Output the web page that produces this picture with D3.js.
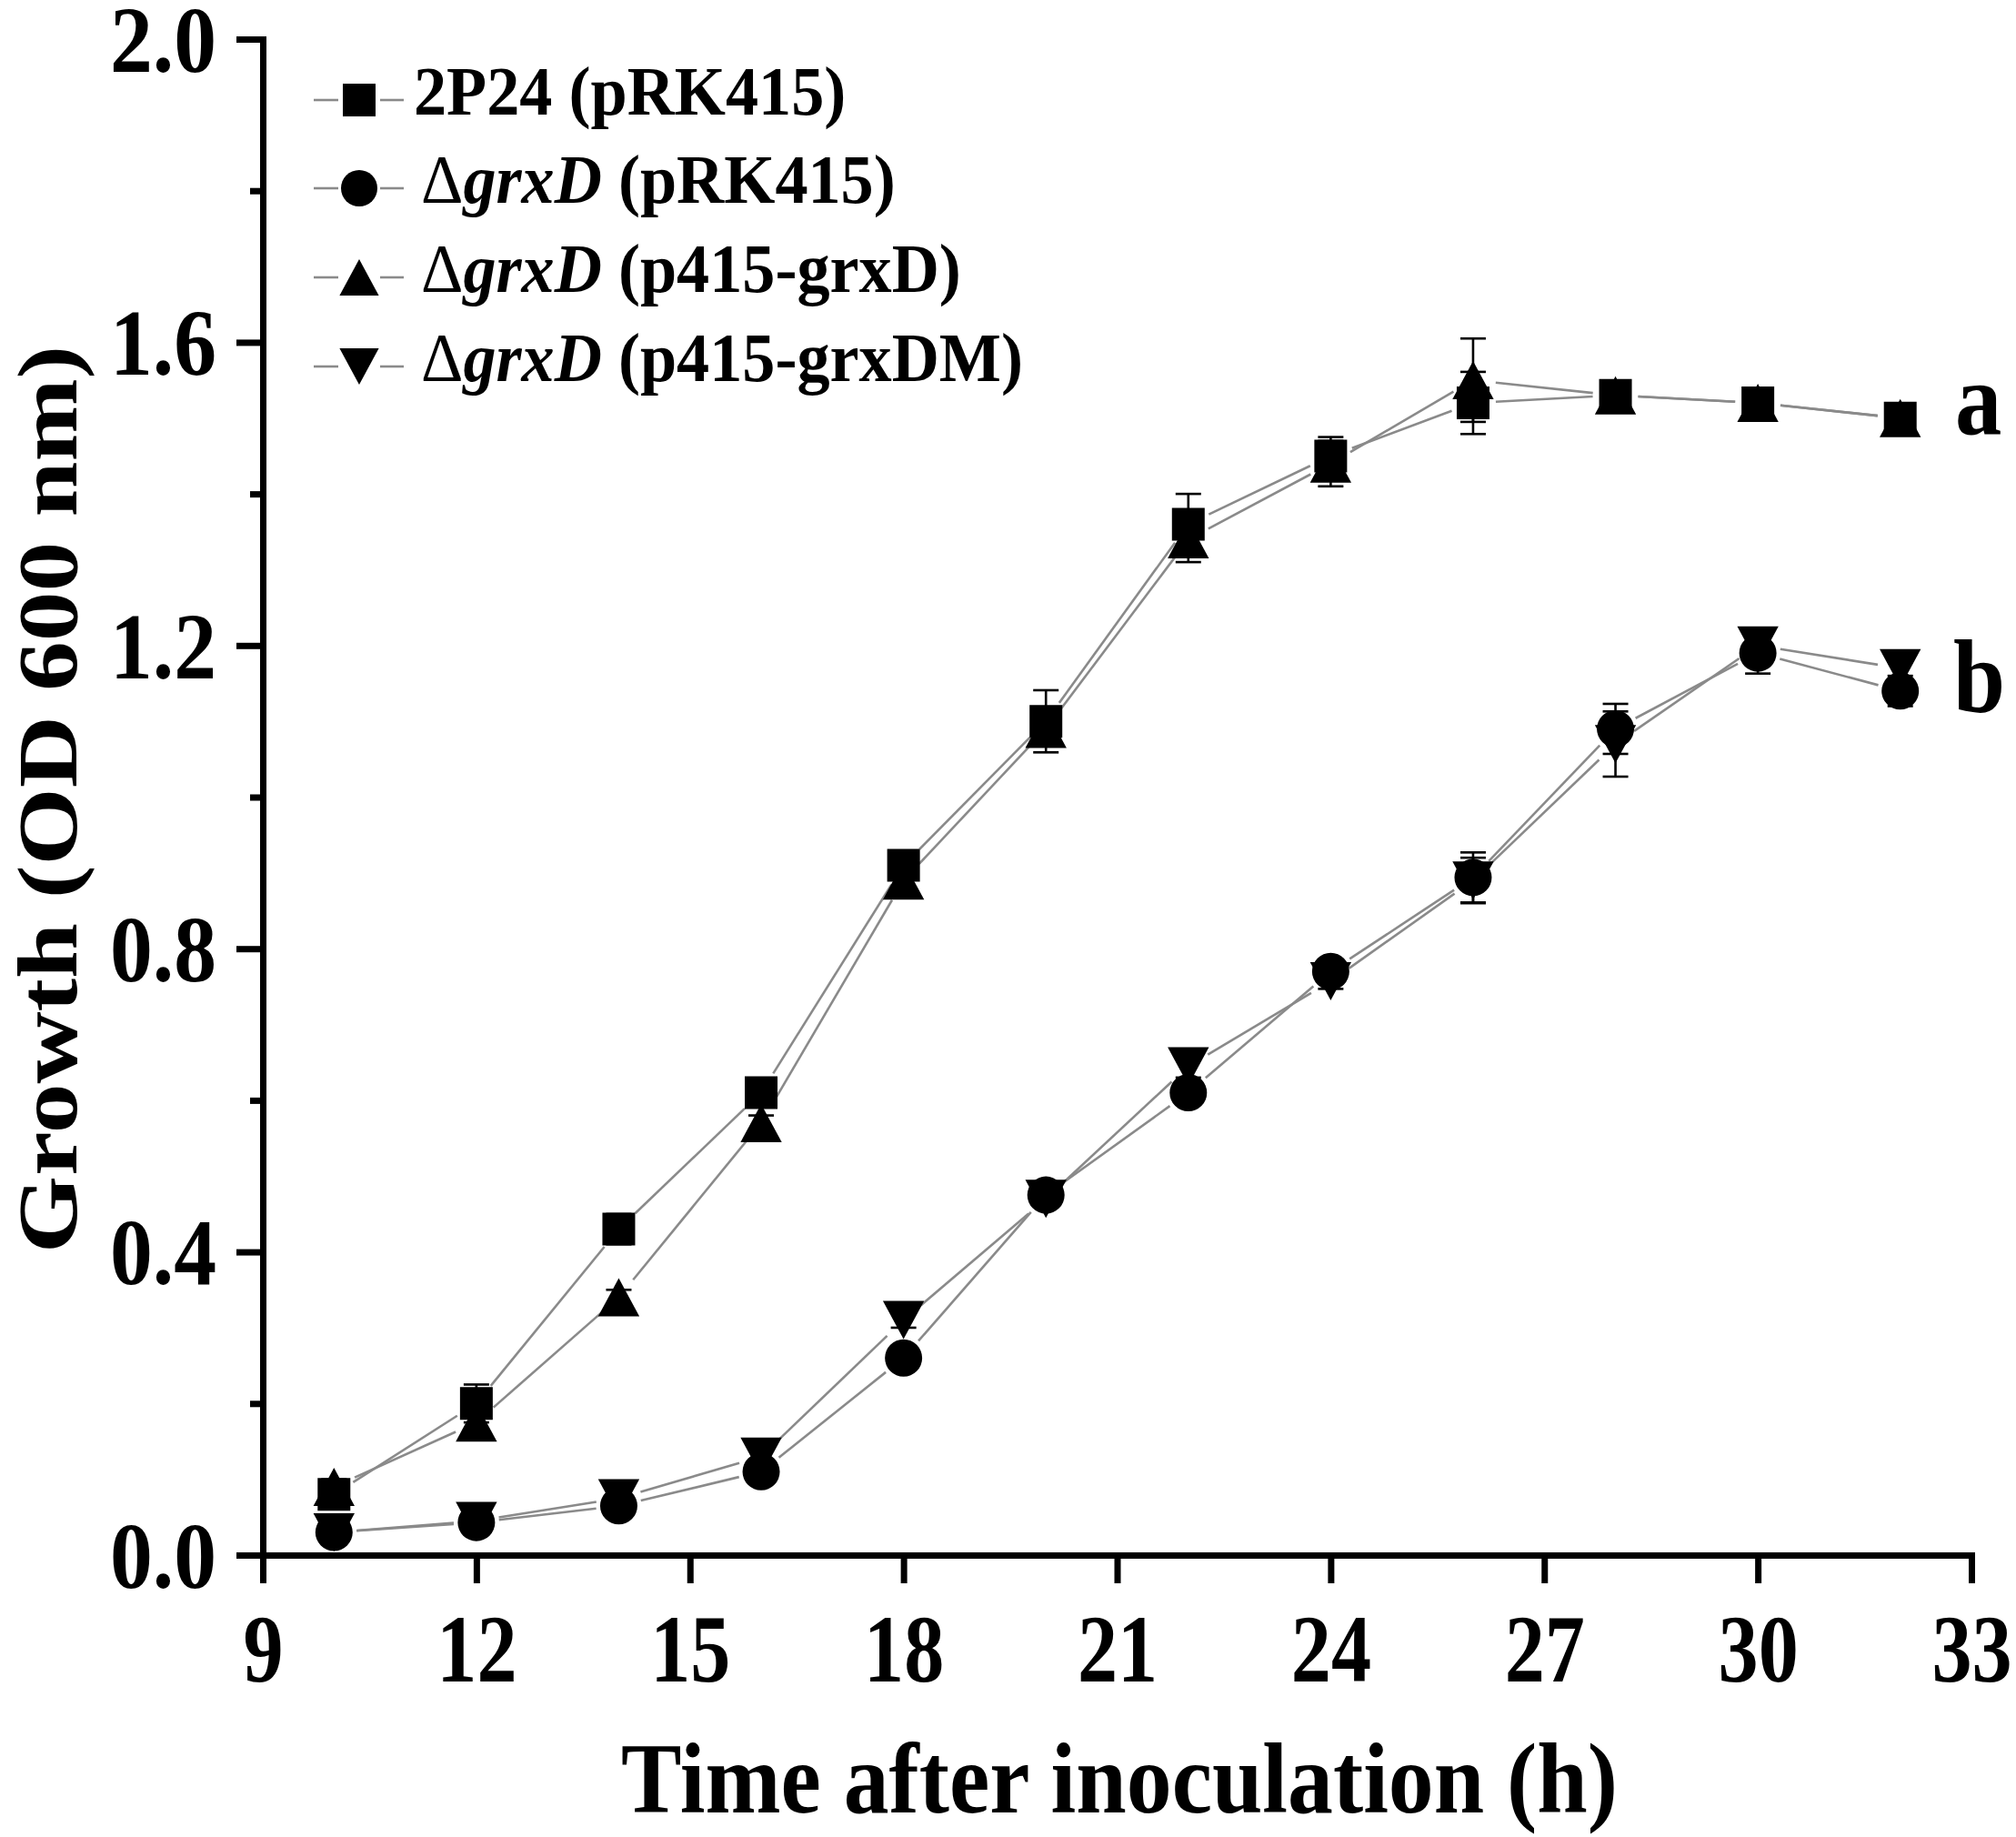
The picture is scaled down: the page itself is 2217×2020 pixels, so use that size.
<!DOCTYPE html>
<html>
<head>
<meta charset="utf-8">
<script src="https://cdn.jsdelivr.net/npm/d3@7"></script>
<style>
  html, body { margin: 0; padding: 0; background: #fff; }
  svg text { font-family: "Liberation Serif", "Times New Roman", serif; font-weight: bold; fill: #000; }
</style>
</head>
<body>
<svg id="chart" width="2217" height="2020"></svg>
<script>
// sampling times (h)
var hours = [10, 12, 14, 16, 18, 20, 22, 24, 26, 28, 30, 32];

// OD600 means and SD
var wtMean   = [0.08, 0.20, 0.43, 0.61, 0.91, 1.10, 1.36, 1.45, 1.52, 1.53, 1.52, 1.50];
var wtErr    = [0.01, 0.025, 0.02, 0.015, 0.015, 0.041, 0.04, 0.025, 0.041, 0.01, 0.01, 0.01];
var mutMean  = [0.03, 0.043, 0.065, 0.11, 0.26, 0.475, 0.61, 0.77, 0.894, 1.09, 1.19, 1.14];
var mutErr   = [0.01, 0.01, 0.01, 0.01, 0.01, 0.01, 0.01, 0.01, 0.033, 0.033, 0.027, 0.02];
var compMean = [0.09, 0.175, 0.34, 0.57, 0.89, 1.09, 1.34, 1.44, 1.55, 1.53, 1.52, 1.50];
var compErr  = [0.01, 0.01, 0.01, 0.01, 0.02, 0.01, 0.03, 0.03, 0.055, 0.01, 0.01, 0.01];
var dmMean   = [0.03, 0.045, 0.075, 0.13, 0.31, 0.47, 0.645, 0.757, 0.89, 1.07, 1.20, 1.17];
var dmErr    = [0.01, 0.01, 0.01, 0.01, 0.01, 0.01, 0.015, 0.01, 0.03, 0.043, 0.02, 0.015];

var seriesNames = ['2P24 (pRK415)', '\u0394grxD (pRK415)', '\u0394grxD (p415-grxD)', '\u0394grxD (p415-grxDM)'];
var seriesShapes = ['square', 'circle', 'triangle', 'down'];

var xTicks = [9, 12, 15, 18, 21, 24, 27, 30, 33];
var yTicks = [0.0, 0.4, 0.8, 1.2, 1.6, 2.0];
var yMinor = [0.2, 0.6, 1.0, 1.4, 1.8];

var groupLabels = ['a', 'b'];

(function() {
  var series = [
    { name: seriesNames[0], shape: seriesShapes[0], mean: wtMean,   err: wtErr },
    { name: seriesNames[1], shape: seriesShapes[1], mean: mutMean,  err: mutErr },
    { name: seriesNames[2], shape: seriesShapes[2], mean: compMean, err: compErr },
    { name: seriesNames[3], shape: seriesShapes[3], mean: dmMean,   err: dmErr }
  ];

  var svg = d3.select('#chart');
  svg.append('rect').attr('width', 2217).attr('height', 2020).attr('fill', '#fff');

  var x = d3.scaleLinear().domain([9, 33]).range([289, 2168]);
  var y = d3.scaleLinear().domain([0, 2]).range([1710, 43]);

  var LINE = '#8a8a8a';

  // marker outlines around (0,0)
  function markerPath(shape, s) {
    var h;
    if (shape === 'square') {
      h = s / 2;
      return 'M' + (-h) + ',' + (-h) + 'H' + h + 'V' + h + 'H' + (-h) + 'Z';
    }
    if (shape === 'circle') {
      h = s / 2;
      return 'M' + (-h) + ',0A' + h + ',' + h + ' 0 1,0 ' + h + ',0A' + h + ',' + h + ' 0 1,0 ' + (-h) + ',0Z';
    }
    var w = s * 1.08 / 2, t = s / 2;
    if (shape === 'triangle') return 'M0,' + (-t) + 'L' + w + ',' + t + 'L' + (-w) + ',' + t + 'Z';
    return 'M0,' + t + 'L' + w + ',' + (-t) + 'L' + (-w) + ',' + (-t) + 'Z';
  }
  var markerSize = { square: 36, circle: 41, triangle: 42, down: 42 };

  // squeeze text horizontally (the figure's lettering is narrow)
  function squeeze(sel, k) {
    sel.each(function() {
      var w = this.getComputedTextLength();
      d3.select(this).attr('textLength', w * k).attr('lengthAdjust', 'spacingAndGlyphs');
    });
  }

  // connecting lines, trimmed short of the markers
  var lines = svg.append('g').attr('stroke', LINE).attr('stroke-width', 2.6).attr('fill', 'none');
  series.forEach(function(s) {
    var pts = hours.map(function(h, i) { return [x(h), y(s.mean[i])]; });
    d3.pairs(pts).forEach(function(p) {
      var dx = p[1][0] - p[0][0], dy = p[1][1] - p[0][1];
      var len = Math.sqrt(dx * dx + dy * dy), g = 25;
      if (len <= 2 * g) return;
      var ux = dx / len, uy = dy / len;
      lines.append('line')
        .attr('x1', p[0][0] + ux * g).attr('y1', p[0][1] + uy * g)
        .attr('x2', p[1][0] - ux * g).attr('y2', p[1][1] - uy * g);
    });
  });

  // error bars
  var errs = svg.append('g').attr('stroke', '#000').attr('stroke-width', 2.6);
  series.forEach(function(s) {
    hours.forEach(function(h, i) {
      var cx = x(h), top = y(s.mean[i] + s.err[i]), bot = y(s.mean[i] - s.err[i]);
      errs.append('line').attr('x1', cx).attr('x2', cx).attr('y1', top).attr('y2', bot);
      errs.append('line').attr('x1', cx - 14).attr('x2', cx + 14).attr('y1', top).attr('y2', top);
      errs.append('line').attr('x1', cx - 14).attr('x2', cx + 14).attr('y1', bot).attr('y2', bot);
    });
  });

  // markers
  series.forEach(function(s) {
    svg.append('g').selectAll('path')
      .data(hours.map(function(h, i) { return [h, s.mean[i]]; }))
      .join('path')
      .attr('d', markerPath(s.shape, markerSize[s.shape]))
      .attr('transform', function(d) { return 'translate(' + x(d[0]) + ',' + y(d[1]) + ')'; })
      .attr('fill', '#000');
  });

  // axes
  var xAxis = svg.append('g')
    .attr('transform', 'translate(0,1710)')
    .call(d3.axisBottom(x).tickValues(xTicks).tickSize(31).tickSizeOuter(0).tickPadding(33));
  var yAxis = svg.append('g')
    .attr('transform', 'translate(289,0)')
    .call(d3.axisLeft(y).tickValues(yTicks).tickFormat(d3.format('.1f'))
      .tickSize(29).tickSizeOuter(0).tickPadding(22));
  var yMin = svg.append('g')
    .attr('transform', 'translate(289,0)')
    .call(d3.axisLeft(y).tickValues(yMinor).tickFormat('').tickSize(14));
  yMin.select('.domain').remove();

  [xAxis, yAxis, yMin].forEach(function(a) {
    a.selectAll('.domain').attr('stroke', '#000').attr('stroke-width', 7).attr('stroke-linecap', 'square');
    a.selectAll('.tick line').attr('stroke', '#000').attr('stroke-width', 7);
  });
  // tick labels: narrowed with a transform so their boxes stay narrow too
  xAxis.selectAll('.tick text').style('font-size', '105px')
    .style('font-family', '"Liberation Serif", serif').style('font-weight', 'bold')
    .attr('transform', 'scale(0.84,1)');
  yAxis.selectAll('.tick text').style('font-size', '104px').attr('dy', '0.34em')
    .style('font-family', '"Liberation Serif", serif').style('font-weight', 'bold')
    .attr('x', -51 / 0.9)
    .attr('transform', 'scale(0.9,1)');

  // axis titles
  svg.append('text')
    .attr('x', 1231).attr('y', 1993)
    .attr('text-anchor', 'middle')
    .style('font-size', '110px')
    .attr('textLength', 1096).attr('lengthAdjust', 'spacingAndGlyphs')
    .text('Time after inoculation (h)');

  svg.append('text')
    .attr('transform', 'translate(84,879) rotate(-90)')
    .attr('text-anchor', 'middle')
    .style('font-size', '94px')
    .attr('textLength', 998).attr('lengthAdjust', 'spacingAndGlyphs')
    .text('Growth (OD 600 nm)');

  // legend
  var legend = svg.append('g');
  var rowY = [110, 207, 305, 403];
  series.forEach(function(s, i) {
    var row = legend.append('g').attr('transform', 'translate(0,' + rowY[i] + ')');
    row.append('line').attr('x1', 345).attr('x2', 372).attr('y1', 0).attr('y2', 0)
      .attr('stroke', LINE).attr('stroke-width', 2.6);
    row.append('line').attr('x1', 418).attr('x2', 444).attr('y1', 0).attr('y2', 0)
      .attr('stroke', LINE).attr('stroke-width', 2.6);
    row.append('path').attr('d', markerPath(s.shape, s.shape === 'square' ? 36 : 40))
      .attr('transform', 'translate(395,0)').attr('fill', '#000');

    var t = row.append('text').attr('y', 16).style('font-size', '76px');
    if (s.name.charAt(0) === '\u0394') {
      var rest = s.name.slice(1);
      var sp = rest.indexOf(' ');
      t.attr('x', 463);
      t.append('tspan').style('font-weight', 'normal').text('\u0394');
      t.append('tspan').style('font-style', 'italic').text(rest.slice(0, sp));
      t.append('tspan').text(rest.slice(sp));
    } else {
      t.attr('x', 455).text(s.name);
    }
    squeeze(t, 0.95);
  });

  // significance letters at the end of the curves
  svg.append('text').attr('x', 2150).attr('y', 477).style('font-size', '114px').text(groupLabels[0])
    .call(squeeze, 0.9);
  svg.append('text').attr('x', 2148).attr('y', 783).style('font-size', '114px').text(groupLabels[1])
    .call(squeeze, 0.9);
})();
</script>
</body>
</html>
